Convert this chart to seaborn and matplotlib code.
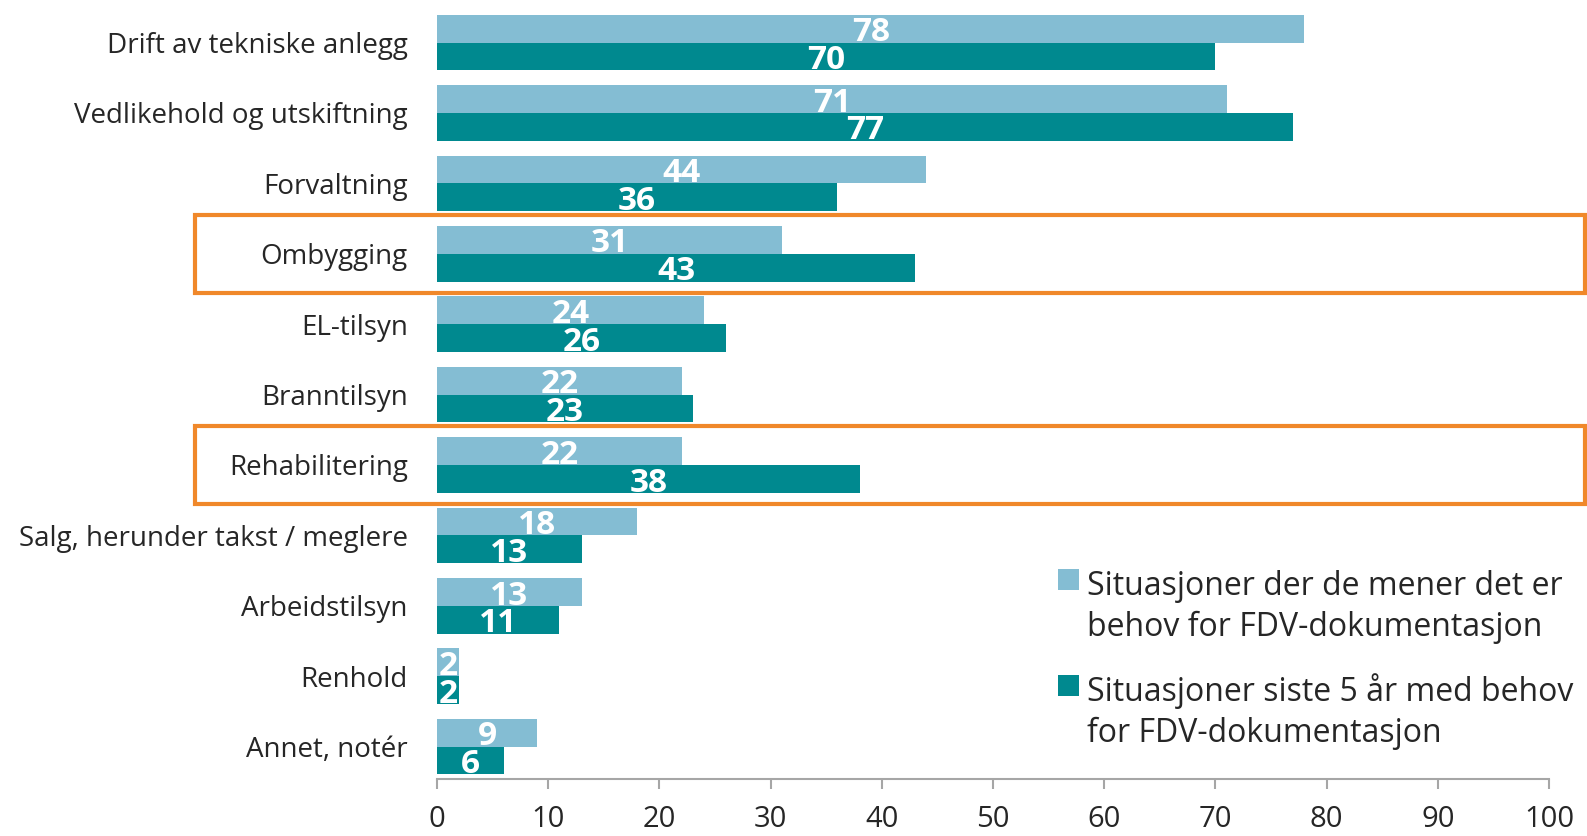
import matplotlib
matplotlib.use("Agg")
import matplotlib.pyplot as plt
import seaborn as sns
import pandas as pd
from matplotlib.patches import Rectangle

categories = ["Drift av tekniske anlegg", "Vedlikehold og utskiftning", "Forvaltning",
              "Ombygging", "EL-tilsyn", "Branntilsyn", "Rehabilitering",
              "Salg, herunder takst / meglere", "Arbeidstilsyn", "Renhold", "Annet, notér"]
series_names = ["Situasjoner der de mener det er\nbehov for FDV-dokumentasjon",
                "Situasjoner siste 5 år med behov\nfor FDV-dokumentasjon"]
values_need = [78, 71, 44, 31, 24, 22, 22, 18, 13, 2, 9]
values_last5 = [70, 77, 36, 43, 26, 23, 38, 13, 11, 2, 6]
highlighted = ["Ombygging", "Rehabilitering"]
xticks = [0, 10, 20, 30, 40, 50, 60, 70, 80, 90, 100]

colors = ["#84BDD3", "#00898F"]

df = pd.DataFrame({
    "kategori": categories * 2,
    "serie": [series_names[0]] * len(categories) + [series_names[1]] * len(categories),
    "verdi": values_need + values_last5,
})

sns.set_theme(style="white")
plt.rcParams["font.family"] = ["Open Sans", "DejaVu Sans"]

W, H = 1587, 836
fig = plt.figure(figsize=(W / 100, H / 100), dpi=100)
ax = fig.add_axes([437 / W, 1 - 779 / H, (1549 - 437) / W, (779 - 7.3) / H])

sns.barplot(data=df, y="kategori", x="verdi", hue="serie", order=categories,
            hue_order=series_names, palette=colors, orient="h", width=0.79,
            saturation=1, ax=ax, legend=False, linewidth=0)

# value labels centred in each bar, nudged down and clipped to the bar
for cont, vals in zip(ax.containers, [values_need, values_last5]):
    for bar, v in zip(cont.patches, vals):
        cx = bar.get_x() + bar.get_width() / 2
        cy = bar.get_y() + bar.get_height() / 2
        t = ax.annotate(str(v), (cx, cy), xytext=(0, -3), textcoords="offset points",
                        ha="center", va="center", color="white", fontsize=24,
                        fontweight="bold")
        t.set_clip_path(bar)

ax.set_xlim(0, 100)
ax.set_ylim(10.46, -0.5)
ax.set_xticks(xticks)
ax.set_xticklabels([str(v) for v in xticks])
ax.set_xlabel("")
ax.set_ylabel("")
for s in ["top", "right", "left"]:
    ax.spines[s].set_visible(False)
ax.spines["bottom"].set_color("#A6A6A6")
ax.spines["bottom"].set_linewidth(1.5)
ax.tick_params(axis="x", bottom=True, length=7, width=1.5, color="#A6A6A6",
               labelsize=21, labelcolor="#262626", pad=12)
ax.tick_params(axis="y", left=False, labelsize=20, labelcolor="#262626", pad=15)

# highlight boxes
for cat in highlighted:
    i = categories.index(cat)
    r = Rectangle((-21.8, i - 0.555), 125.0, 1.11, fill=False, edgecolor="#F0882A",
                  linewidth=3, clip_on=False, transform=ax.transData)
    ax.add_patch(r)

# legend (drawn manually so the swatch aligns with the first text line)
legend_tops = [569, 675]
line_gap = 42.5
for c, name, top in zip(colors, series_names, legend_tops):
    fig.patches.append(Rectangle((1058 / W, 1 - (top + 21) / H), 21 / W, 21 / H,
                                 transform=fig.transFigure, facecolor=c,
                                 edgecolor="none"))
    fig.text(1087 / W, 1 - (top + 25 + line_gap) / H, name, fontsize=23, color="#262626",
             va="baseline", ha="left", linespacing=1.33)

fig.savefig("out.png", dpi=100)
